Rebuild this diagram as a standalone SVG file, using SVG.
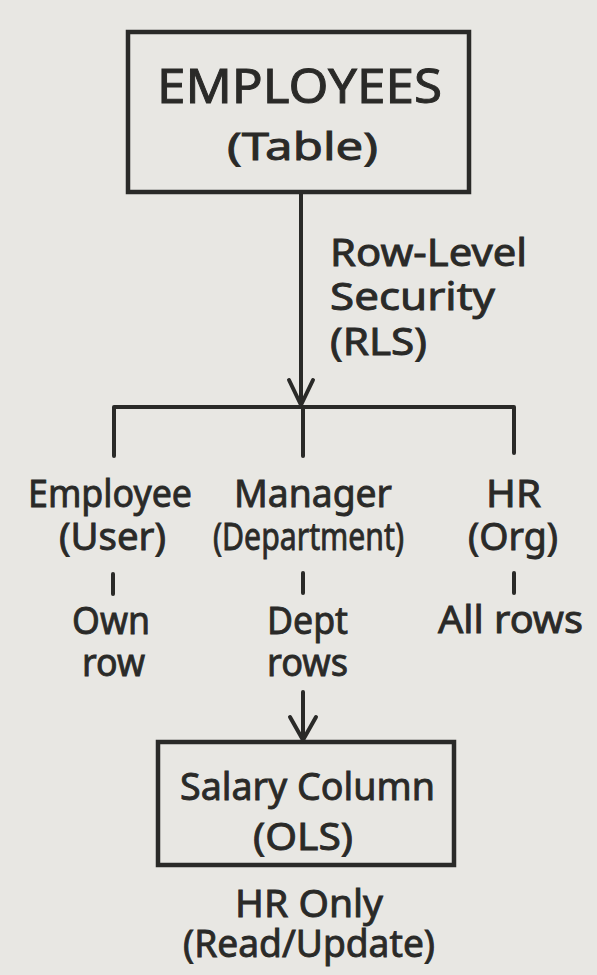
<svg xmlns="http://www.w3.org/2000/svg" width="597" height="975" viewBox="0 0 597 975">
<style>
.bg{fill:#e8e7e3}
.box{fill:none;stroke:#2a2a28;stroke-width:4.5}
.ln{fill:none;stroke:#2a2a28;stroke-width:4;stroke-linecap:round;stroke-linejoin:round}
text{font-family:"Noto Sans","Liberation Sans",sans-serif;fill:#2a2a28;stroke:#2a2a28;stroke-width:0.9;text-anchor:middle}
.t{font-size:39px}
.big{font-size:47px}
.l{text-anchor:start}
</style>
<rect class="bg" x="0" y="0" width="597" height="975"/>
<g id="connectors">
<line class="ln" x1="301" y1="193" x2="301" y2="405"/>
<path class="ln" d="M289,380 L301,405 L313,380"/>
<path class="ln" d="M114,456 L114,407 L514,407 L514,453"/>
<line class="ln" x1="303" y1="407" x2="303" y2="456"/>
<line class="ln" x1="113" y1="574" x2="113" y2="594"/>
<line class="ln" x1="303" y1="573" x2="303" y2="593"/>
<line class="ln" x1="514" y1="573" x2="514" y2="593"/>
<line class="ln" x1="303" y1="692" x2="303" y2="740"/>
<path class="ln" d="M290,717 L303,740 L316,717"/>
</g>
<g id="employees-table">
<rect class="box" x="128" y="32" width="341" height="160"/>
<text class="big" x="299.5" y="103" textLength="285" lengthAdjust="spacingAndGlyphs">EMPLOYEES</text>
<text class="t" x="302.5" y="160" textLength="151" lengthAdjust="spacingAndGlyphs">(Table)</text>
</g>
<g id="rls-label">
<text class="t l" x="330" y="266" textLength="197" lengthAdjust="spacingAndGlyphs">Row-Level</text>
<text class="t l" x="330" y="310" textLength="165" lengthAdjust="spacingAndGlyphs">Security</text>
<text class="t l" x="330" y="355" textLength="97" lengthAdjust="spacingAndGlyphs">(RLS)</text>
</g>
<g id="employee-user">
<text class="t" x="110" y="507" textLength="164" lengthAdjust="spacingAndGlyphs">Employee</text>
<text class="t" x="112.5" y="550" textLength="107" lengthAdjust="spacingAndGlyphs">(User)</text>
</g>
<g id="manager-department">
<text class="t" x="313" y="507" textLength="158" lengthAdjust="spacingAndGlyphs">Manager</text>
<text class="t" x="308.5" y="550" textLength="191" lengthAdjust="spacingAndGlyphs">(Department)</text>
</g>
<g id="hr-org">
<text class="t" x="513.5" y="507" textLength="55" lengthAdjust="spacingAndGlyphs">HR</text>
<text class="t" x="513" y="550" textLength="90" lengthAdjust="spacingAndGlyphs">(Org)</text>
</g>
<g id="own-row">
<text class="t" x="111" y="634" textLength="78" lengthAdjust="spacingAndGlyphs">Own</text>
<text class="t" x="113.5" y="676" textLength="63" lengthAdjust="spacingAndGlyphs">row</text>
</g>
<g id="dept-rows">
<text class="t" x="307.5" y="634" textLength="81" lengthAdjust="spacingAndGlyphs">Dept</text>
<text class="t" x="307.5" y="676" textLength="81" lengthAdjust="spacingAndGlyphs">rows</text>
</g>
<g id="all-rows">
<text class="t" x="510.5" y="633" textLength="145" lengthAdjust="spacingAndGlyphs">All rows</text>
</g>
<g id="salary-column">
<rect class="box" x="158" y="742" width="296" height="123"/>
<text class="t" x="307.5" y="800" textLength="255" lengthAdjust="spacingAndGlyphs">Salary Column</text>
<text class="t" x="303" y="850" textLength="100" lengthAdjust="spacingAndGlyphs">(OLS)</text>
</g>
<g id="hr-only">
<text class="t" x="309" y="917" textLength="148" lengthAdjust="spacingAndGlyphs">HR Only</text>
<text class="t" x="309" y="957" textLength="252" lengthAdjust="spacingAndGlyphs">(Read/Update)</text>
</g>
</svg>
